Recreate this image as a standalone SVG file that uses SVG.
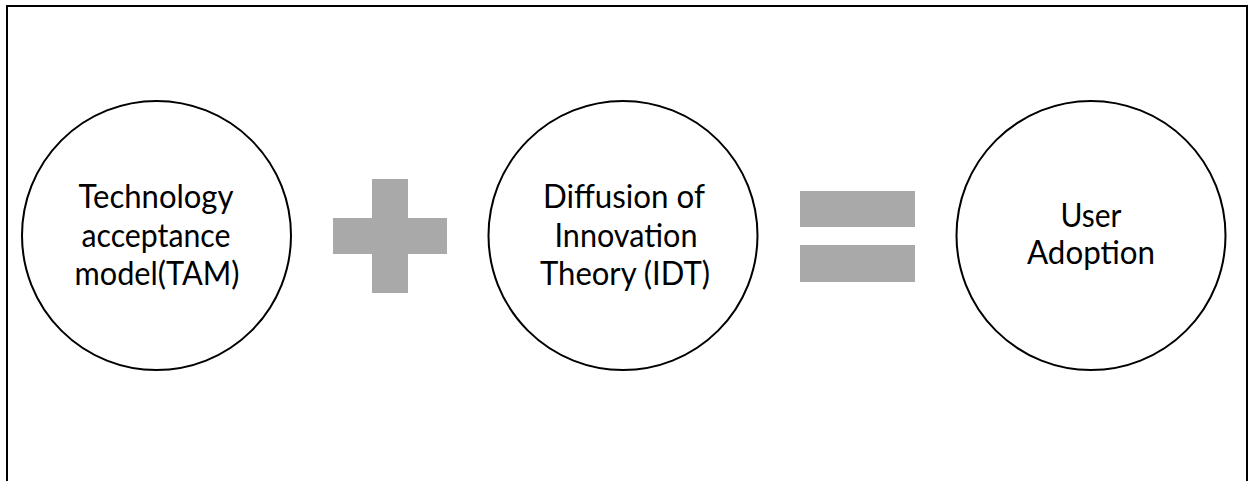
<svg xmlns="http://www.w3.org/2000/svg" width="1248" height="481" viewBox="0 0 1248 481">
  <style>
    .frame { fill: none; stroke: #000; stroke-width: 2; }
    .node circle { fill: #fff; stroke: #000; stroke-width: 2; }
    .node text { font-family: Lato, "Liberation Sans", sans-serif; font-size: 32px; fill: #000; text-anchor: middle; }
    .op { fill: #a9a9a9; }
  </style>
  <rect width="1248" height="481" fill="#fff"/>
  <!-- open frame: left, top and right sides -->
  <path class="frame" d="M7 481 V6 H1247 V481"/>

  <g id="node-tam" class="node">
    <circle cx="156.5" cy="235.5" r="134.5"/>
    <text x="156" y="208" textLength="155" lengthAdjust="spacingAndGlyphs">Technology</text>
    <text x="156" y="247" textLength="149" lengthAdjust="spacingAndGlyphs">acceptance</text>
    <text x="157" y="285" textLength="165" lengthAdjust="spacingAndGlyphs">model(TAM)</text>
  </g>

  <g id="node-idt" class="node">
    <circle cx="623" cy="235.5" r="134.5"/>
    <text x="624" y="208" textLength="162" lengthAdjust="spacingAndGlyphs">Diffusion of</text>
    <text x="626" y="247" textLength="143" lengthAdjust="spacingAndGlyphs">Innovation</text>
    <text x="625" y="285" textLength="170" lengthAdjust="spacingAndGlyphs">Theory (IDT)</text>
  </g>

  <g id="node-adoption" class="node">
    <circle cx="1091" cy="235.5" r="134.5"/>
    <text x="1091" y="227" textLength="61" lengthAdjust="spacingAndGlyphs">User</text>
    <text x="1091" y="264" textLength="128" lengthAdjust="spacingAndGlyphs">Adoption</text>
  </g>

  <g id="connectors">
    <!-- plus sign -->
    <g id="plus">
      <rect class="op" x="333" y="218" width="114" height="36"/>
      <rect class="op" x="372" y="179" width="36" height="114"/>
    </g>
    <!-- equals sign -->
    <g id="equals">
      <rect class="op" x="800" y="191" width="115" height="36"/>
      <rect class="op" x="800" y="245" width="115" height="37"/>
    </g>
  </g>
</svg>
